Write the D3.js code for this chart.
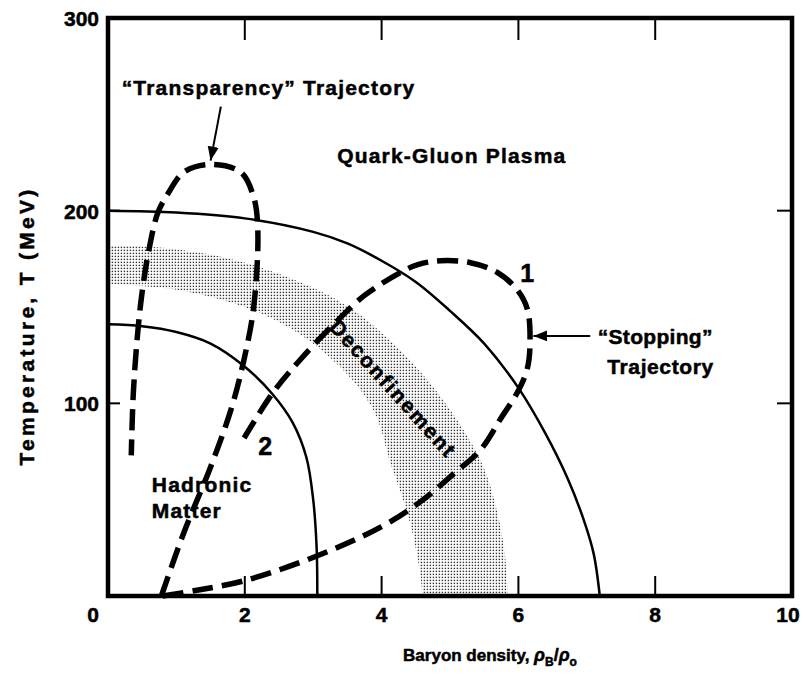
<!DOCTYPE html>
<meta charset="utf-8">
<style>
body { margin: 0; background: #fff; }
text { font-family: "Liberation Sans", Arial, sans-serif; font-weight: bold; fill: #000; stroke: #000; stroke-width: 0.5px; }
.boundary { fill: none; stroke: #000; stroke-width: 2.5px; }
.traj { fill: none; stroke: #000; stroke-width: 5.5px; stroke-dasharray: 21 9; }
</style>
<svg width="803" height="678"></svg>
<script src="https://d3js.org/d3.v7.min.js"></script>
<script>

// ticks
var xTicks = [0, 2, 4, 6, 8, 10];
var yTicks = [100, 200, 300];
var xInnerTicks = [2, 4, 6, 8];
var yInnerTicks = [100, 200];

// phase boundaries [rho_B/rho_0, T (MeV)]
var outerBoundary = [[0,200],[1,199],[2,196],[3,189],[3.5,183],[4,174],[4.5,163],[5,148],[5.5,131],[6,108],[6.4,84],[6.72,61],[6.95,40],[7.1,22],[7.19,0]];
var innerBoundary = [[0,141],[0.5,140],[1,137],[1.5,131],[2,119],[2.4,105],[2.7,90],[2.9,72],[3.0,50],[3.05,25],[3.06,0]];

// deconfinement band (stippled)
var bandOuter = [[0,182],[1,180],[2,173],[3,160],[3.6,148],[4.2,130],[4.72,110],[5.2,86],[5.5,66],[5.7,42],[5.8,22],[5.85,0]];
var bandInner = [[0,162],[1,159],[2,150],[2.8,136],[3.5,115],[3.9,95],[4.13,69],[4.4,40],[4.55,15],[4.6,0]];

// trajectories
var stoppingPath = [[0.8,0],[1.3,3],[2.0,8],[3.07,21],[4.0,36],[4.57,49],[5.04,63],[5.45,76],[5.74,92],[5.99,106],[6.13,118],[6.17,132],[6.13,149],[5.98,159],[5.69,168],[5.3,173],[4.86,174],[4.53,172],[4.28,168],[3.75,156],[3.3,141],[2.82,123],[2.42,106],[1.99,82]];
var transparencyPath = [[0.78,0],[1.11,33],[1.5,67],[1.8,97],[1.99,123],[2.13,150],[2.19,190],[2.13,207],[1.94,220],[1.5,224],[1.11,220],[0.88,209],[0.73,199],[0.6,180],[0.5,158],[0.43,135],[0.37,105],[0.34,73]];

// arrows [from, to]
var arrows = [
  [[1.65,254],[1.5,226]],
  [[7.05,135],[6.22,135]]
];

// labels [text, x, T, letter spacing]
var labels = [
  ["\u201CTransparency\u201D Trajectory", 0.2, 260, 1.2],
  ["Quark-Gluon Plasma", 3.35, 225, 1.2],
  ["\u201CStopping\u201D", 7.16, 131, 0.3],
  ["Trajectory", 7.3, 115, 0.6],
  ["Hadronic", 0.64, 54, 1.2],
  ["Matter", 0.64, 40.5, 1.2]
];
var curveNumbers = [["1", 6.13, 163], ["2", 2.3, 73]];

var svg = d3.select("svg");

var x = d3.scaleLinear().domain([0, 10]).range([108, 792]);
var y = d3.scaleLinear().domain([0, 300]).range([596, 18]);

var line = d3.line()
    .x(function(d) { return x(d[0]); })
    .y(function(d) { return y(d[1]); })
    .curve(d3.curveCatmullRom.alpha(0.5));

// stipple pattern
var defs = svg.append("defs");
var pat = defs.append("pattern")
    .attr("id", "stipple")
    .attr("patternUnits", "userSpaceOnUse")
    .attr("width", 3).attr("height", 3);
pat.append("rect").attr("x", 0.7).attr("y", 0.7).attr("width", 1.4).attr("height", 1.4).attr("fill", "#333");

defs.append("marker")
    .attr("id", "head")
    .attr("viewBox", "0 0 10 10")
    .attr("refX", 10).attr("refY", 5)
    .attr("markerWidth", 14).attr("markerHeight", 14)
    .attr("markerUnits", "userSpaceOnUse")
    .attr("orient", "auto")
  .append("path")
    .attr("d", "M0,1 L10,5 L0,9 Z")
    .attr("fill", "#000");

// band
var innerRev = bandInner.slice().reverse();
var bandD = line(bandOuter) + "L" + line(innerRev).slice(1) + "Z";
svg.append("path")
    .attr("d", bandD)
    .attr("fill", "url(#stipple)");

svg.append("path").attr("class", "boundary").attr("d", line(outerBoundary));
svg.append("path").attr("class", "boundary").attr("d", line(innerBoundary));

svg.append("path").attr("class", "traj").attr("d", line(stoppingPath));
svg.append("path").attr("class", "traj").attr("d", line(transparencyPath));

// frame
svg.append("rect")
    .attr("x", x(0)).attr("y", y(300))
    .attr("width", x(10) - x(0)).attr("height", y(0) - y(300))
    .attr("fill", "none").attr("stroke", "#000").attr("stroke-width", 4.5);

// inward ticks
var tk = svg.append("g").attr("stroke", "#000").attr("stroke-width", 2);
xInnerTicks.forEach(function(t) {
  tk.append("line").attr("x1", x(t)).attr("x2", x(t)).attr("y1", y(0)).attr("y2", y(0) - 20);
  tk.append("line").attr("x1", x(t)).attr("x2", x(t)).attr("y1", y(300)).attr("y2", y(300) + 22);
});
yInnerTicks.forEach(function(t) {
  tk.append("line").attr("x1", x(0)).attr("x2", x(0) + 12).attr("y1", y(t)).attr("y2", y(t));
  tk.append("line").attr("x1", x(10)).attr("x2", x(10) - 15).attr("y1", y(t)).attr("y2", y(t));
});

// tick labels
svg.append("g").selectAll("text")
    .data(xTicks)
  .enter().append("text")
    .attr("x", function(d) { return x(d) + (d === 0 ? -15 : d === 10 ? -4 : 0); })
    .attr("y", y(0) + 26)
    .attr("text-anchor", "middle")
    .style("font-size", "21px")
    .text(function(d) { return d; });

svg.append("g").selectAll("text")
    .data(yTicks)
  .enter().append("text")
    .attr("x", x(0) - 9)
    .attr("y", function(d) { return y(d) + 8; })
    .attr("text-anchor", "end")
    .style("font-size", "21px")
    .text(function(d) { return d; });

// axis titles
var xt = svg.append("text")
    .attr("x", 490).attr("y", 661)
    .attr("text-anchor", "middle")
    .style("font-size", "17px");
xt.append("tspan").text("Baryon density, ");
xt.append("tspan").style("font-style", "italic").style("font-size", "18px").text("\u03C1");
xt.append("tspan").attr("dy", 5).style("font-size", "12px").text("B");
xt.append("tspan").attr("dy", -5).style("font-size", "18px").text("/");
xt.append("tspan").style("font-style", "italic").style("font-size", "18px").text("\u03C1");
xt.append("tspan").attr("dy", 5).style("font-size", "12px").text("o");

svg.append("text")
    .attr("transform", "translate(34,326) rotate(-90)")
    .attr("text-anchor", "middle")
    .style("font-size", "21px")
    .style("letter-spacing", "3.3px")
    .text("Temperature, T (MeV)");

// annotations
svg.append("g").selectAll("text")
    .data(labels)
  .enter().append("text")
    .attr("x", function(d) { return x(d[1]); })
    .attr("y", function(d) { return y(d[2]); })
    .style("font-size", "21px")
    .style("letter-spacing", function(d) { return d[3] + "px"; })
    .text(function(d) { return d[0]; });

svg.append("g").selectAll("text")
    .data(curveNumbers)
  .enter().append("text")
    .attr("x", function(d) { return x(d[1]); })
    .attr("y", function(d) { return y(d[2]); })
    .attr("text-anchor", "middle")
    .style("font-size", "25px")
    .text(function(d) { return d[0]; });

svg.append("text")
    .attr("transform", "translate(" + x(4.09) + "," + y(105) + ") rotate(48)")
    .attr("text-anchor", "middle")
    .style("font-size", "21px")
    .style("letter-spacing", "2px")
    .text("Deconfinement");

svg.append("g").selectAll("line")
    .data(arrows)
  .enter().append("line")
    .attr("x1", function(d) { return x(d[0][0]); })
    .attr("y1", function(d) { return y(d[0][1]); })
    .attr("x2", function(d) { return x(d[1][0]); })
    .attr("y2", function(d) { return y(d[1][1]); })
    .attr("stroke", "#000")
    .attr("stroke-width", 2)
    .attr("marker-end", "url(#head)");

</script>
